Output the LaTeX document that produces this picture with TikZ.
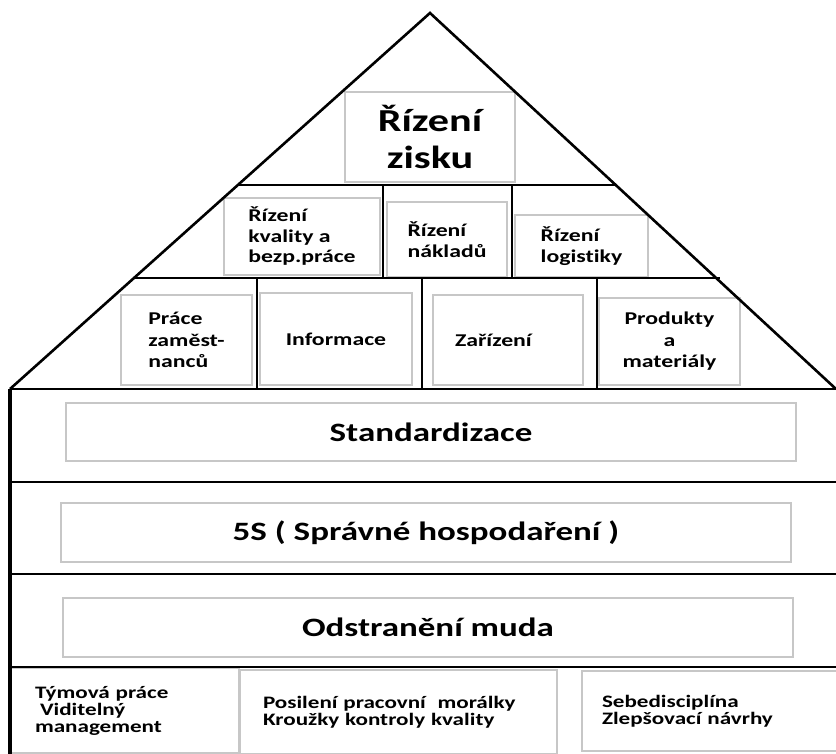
\documentclass[tikz,border=0pt]{standalone}
\usepackage{fontspec}
\setmainfont{Carlito}[FakeStretch = 1.32, Ligatures = NoCommon]

\begin{document}
\begin{tikzpicture}[x = 1pt, y = -1pt, font = \bfseries,
	beam/.style = {line width = 2.6pt},
	wall/.style = {line width = 3.6pt},
	panel/.style = {draw = black!22, line width = 1.3pt, inner sep = 0pt, align = center},
	bigtext/.style = {font = \bfseries\fontsize{32}{37}\selectfont},
	midtext/.style = {font = \bfseries\fontsize{18}{20.5}\selectfont},
	lowtext/.style = {font = \bfseries\fontsize{18}{21.5}\selectfont},
	floortext/.style = {font = \bfseries\fontsize{26.5}{30}\selectfont},
	basetext/.style = {font = \bfseries\fontsize{17.5}{17}\selectfont, align = left}]
	
	\useasboundingbox (0, 0) rectangle (836, 754);
	
	% Roof panels
	
	\node [panel, bigtext, minimum width = 170, minimum height = 90] (zisk) at (430, 137) {Řízení\\zisku};
	
	\node [panel, midtext, align = left, minimum width = 156, minimum height = 77] (kvalita) at (302, 236.5) {Řízení\\kvality a\\bezp.práce};
	\node [panel, midtext, align = left, minimum width = 120, minimum height = 75] (naklady) at (447, 239.5) {Řízení\\nákladů};
	\node [panel, midtext, align = left, minimum width = 133, minimum height = 62] (logistika) at (581.5, 246) {Řízení\\logistiky};
	
	\node [panel, lowtext, align = left, minimum width = 131, minimum height = 90] (prace) at (186.5, 340) {Práce\\zaměst-\\nanců};
	\node [panel, lowtext, minimum width = 152, minimum height = 92] (informace) at (336, 339) {Informace};
	\node [panel, lowtext, align = left, text width = 106, inner xsep = 22, minimum height = 90] (zarizeni) at (508, 340) {Zařízení};
	\node [panel, lowtext, minimum width = 141, minimum height = 87] (produkty) at (669.5, 341.5) {Produkty\\a\\materiály};
	
	% Floor panels
	
	\node [panel, floortext, minimum width = 730, minimum height = 58] (standard) at (431, 432) {Standardizace};
	\node [panel, floortext, minimum width = 730, minimum height = 59] (petS) at (426, 532.5) {5S ( Správné hospodaření )};
	\node [panel, floortext, minimum width = 730, minimum height = 59] (muda) at (428, 627.5) {Odstranění muda};
	
	% Base panels
	
	\node [panel, basetext, text width = 179, inner xsep = 25, minimum height = 85] (tym) at (124.5, 710.5) {Týmová práce\\\hspace*{5pt}Viditelný\\management};
	\node [panel, basetext, text width = 271, inner xsep = 23, minimum height = 84] (moralka) at (398.5, 712) {Posilení pracovní\ \ morálky\\Kroužky kontroly kvality};
	\node [panel, basetext, text width = 234, inner xsep = 20, minimum height = 80] (sebe) at (719, 711) {Sebedisciplína\\Zlepšovací návrhy};
	
	% Roof outline w beams
	
	\coordinate (apex) at (430, 13);
	\coordinate (eaveL) at (10, 389);
	\coordinate (eaveR) at (836, 389);
	
	\draw [beam, line join = miter] (eaveL) -- (apex) -- (eaveR);
	
	\draw [beam] (238, 185) -- (615, 185);
	\draw [beam] (133, 278) -- (720, 278);
	
	\foreach \x in {383, 512}
		\draw [beam] (\x, 185) -- (\x, 278);
	
	\foreach \x in {257, 422, 597}
		\draw [beam] (\x, 278) -- (\x, 389);
	
	% House body w floors
	
	\draw [wall] (10, 754) -- (eaveL);
	
	\foreach \y in {389, 482, 574, 667}
		\draw [beam] (10, \y) -- (840, \y);
	
\end{tikzpicture}
\end{document}
